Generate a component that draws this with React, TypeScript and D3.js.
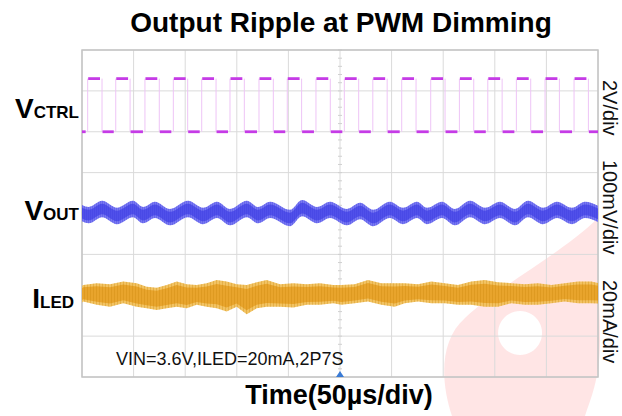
import React from 'react';
import * as d3 from 'd3';

const W = 622;
const H = 416;
const TITLE = 'Output Ripple at PWM Dimming';
const X_LABEL = 'Time(50µs/div)';
const NOTE = 'VIN=3.6V,ILED=20mA,2P7S';
const SCALE_LABELS = ['2V/div', '100mV/div', '20mA/div'];

const TIME_SPAN_US = 500;
const TIME_DIVS = 10;
const V_DIVS = 8;

// VCTRL (2V/div, offset +2 div): PWM edges in µs
const VCTRL_RISE = [5.5, 32.7, 61.0, 88.5, 116.0, 143.4, 171.5, 198.9, 226.7, 254.2, 281.8, 309.8, 337.9, 365.7, 393.2, 420.9, 448.7, 476.8];
const VCTRL_FALL = [19.4, 46.6, 74.9, 102.4, 129.9, 157.3, 185.4, 212.8, 240.6, 268.1, 295.7, 323.7, 351.8, 379.6, 407.1, 434.8, 462.6, 490.7];
const VCTRL_LEVELS = [0, 2.6]; // V low/high

// VOUT (100mV/div, offset 0 div): centre of ripple band in mV
const VOUT_T = [0, 6.5, 19.4, 33.9, 49.4, 59.1, 70.7, 85.3, 102.7, 117.3, 130.8, 143.4, 159.9, 170.5, 182.2, 201.6, 213.2, 227.7, 240.3, 256.8, 269.4, 282.0, 298.4, 311.0, 324.6, 334.3, 348.8, 361.4, 376.0, 390.5, 405.0, 419.6, 432.2, 446.7, 460.3, 474.8, 487.4, 500];
const VOUT_MV = [1, -4, 11, -6, 11, -4, 9, -9, 11, -6, 9, -9, 11, -4, 9, -11, 13, -4, 9, -9, 6, -11, 9, -6, 9, -6, 9, -9, 11, -6, 9, -9, 11, -6, 9, -6, 9, -1];
const VOUT_BAND_MV = 20;
const VOUT_CORE_MV = 13;

// ILED (20mA/div, offset -2 div): noise envelope in mA
const ILED_T = [0, 1.3, 14.2, 27.1, 40.0, 53.0, 62.7, 72.4, 82.1, 91.8, 101.5, 111.1, 120.8, 130.5, 140.2, 149.9, 159.6, 169.3, 179.0, 191.9, 204.8, 217.7, 230.6, 243.5, 251.3, 264.2, 277.1, 290.0, 303.0, 312.7, 325.6, 338.5, 351.5, 364.3, 377.2, 390.2, 403.1, 416.0, 429.0, 441.9, 454.8, 467.7, 480.6, 493.5, 500];
const ILED_UP = [4.6, 5.0, 5.9, 5.4, 6.7, 5.9, 4.2, 3.7, 5.0, 6.7, 5.4, 5.0, 5.9, 7.5, 6.7, 5.4, 5.0, 6.4, 7.5, 5.4, 5.9, 5.4, 5.9, 5.0, 5.0, 5.4, 7.5, 5.9, 5.9, 5.9, 5.4, 6.7, 5.9, 5.0, 6.7, 7.5, 6.4, 5.9, 5.4, 5.9, 5.0, 5.9, 6.7, 6.7, 6.0];
const ILED_DN = [-3.5, -3.1, -4.7, -5.6, -3.9, -5.6, -6.4, -7.2, -6.4, -5.6, -6.4, -4.7, -5.6, -6.4, -8.0, -5.6, -9.3, -6.4, -5.6, -5.6, -6.0, -4.7, -4.7, -3.9, -4.7, -3.9, -3.1, -4.7, -5.6, -3.9, -3.1, -3.9, -3.9, -4.7, -4.7, -5.6, -5.6, -3.9, -4.7, -4.7, -3.9, -3.1, -3.9, -3.9, -4.0];

const CHANNELS = [
  { big: 'V', small: 'CTRL', offset: 2, perDiv: 2, labelX: 79, labelY: 118, scaleY: 80 },
  { big: 'V', small: 'OUT', offset: 0, perDiv: 100, labelX: 79, labelY: 220, scaleY: 160 },
  { big: 'I', small: 'LED', offset: -2, perDiv: 20, labelX: 74, labelY: 308, scaleY: 280 },
];

const FONT = "'Liberation Sans', Arial, sans-serif";

export default function App() {
  const left = 82, right = 598, top = 50, bottom = 377;
  const x = d3.scaleLinear().domain([0, TIME_SPAN_US]).range([left, right]);
  const yDiv = d3.scaleLinear().domain([-V_DIVS / 2, V_DIVS / 2]).range([bottom, top]);
  const chY = (i: number) => (v: number) => yDiv(CHANNELS[i].offset + v / CHANNELS[i].perDiv);

  const vGrid = d3.range(TIME_DIVS + 1).map((i) => x((TIME_SPAN_US / TIME_DIVS) * i));
  const hGrid = d3.range(V_DIVS + 1).map((j) => yDiv(-V_DIVS / 2 + j));
  const cx = x(TIME_SPAN_US / 2);
  const cy = yDiv(0);
  const minorX = d3.range(TIME_DIVS * 5 + 1).map((i) => x((TIME_SPAN_US / TIME_DIVS / 5) * i));
  const minorY = d3.range(V_DIVS * 5 + 1).map((j) => yDiv(-V_DIVS / 2 + j / 5));

  // VCTRL
  const yc = chY(0);
  const edges = [...VCTRL_RISE.map((t) => ({ t, up: true })), ...VCTRL_FALL.map((t) => ({ t, up: false }))].sort((a, b) => a.t - b.t);
  const bounds = [0, ...edges.map((e) => e.t), TIME_SPAN_US];
  const segs = bounds.slice(0, -1).map((t0, i) => ({ t0, t1: bounds[i + 1], high: i % 2 === 1 }));

  // VOUT
  const yo = chY(1);
  const voutData = VOUT_T.map((t, i) => ({ t, v: VOUT_MV[i] }));
  const bandArea = (half: number) =>
    d3.area<{ t: number; v: number }>()
      .x((d) => x(d.t))
      .y0((d) => yo(d.v - half))
      .y1((d) => yo(d.v + half))
      .curve(d3.curveMonotoneX)(voutData) || '';

  // ILED
  const yi = chY(2);
  const iledData = ILED_T.map((t, i) => ({ t, up: ILED_UP[i], dn: ILED_DN[i] }));
  const iledOuter = d3.area<{ t: number; up: number; dn: number }>()
    .x((d) => x(d.t)).y0((d) => yi(d.dn)).y1((d) => yi(d.up)).curve(d3.curveLinear)(iledData) || '';
  const iledCore = d3.area<{ t: number; up: number; dn: number }>()
    .x((d) => x(d.t))
    .y0((d) => yi(d.dn + (d.up - d.dn) * 0.14))
    .y1((d) => yi(d.up - (d.up - d.dn) * 0.14))
    .curve(d3.curveLinear)(iledData) || '';

  return (
    <svg width={W} height={H} style={{ position: 'absolute', left: 0, top: 0, background: '#fff' }}>
      <defs>
        <pattern id="hatchB" width="2" height="4" patternUnits="userSpaceOnUse">
          <rect width="1" height="4" fill="#3a3ae0" opacity="0.3" />
        </pattern>
        <pattern id="hatchO" width="3" height="7" patternUnits="userSpaceOnUse">
          <rect width="1" height="7" fill="#c98408" opacity="0.3" />
        </pattern>
      </defs>
      <rect width={W} height={H} fill="#fff" />

      {/* watermark */}
      <path
        d="M598 218 C596 260 600 300 600 340 C600 380 590 400 585 416 L452 416 C440 380 440 340 465 318 C500 285 560 255 598 218 Z M520 311 A22 22 0 1 0 520.1 311 Z"
        fill="#ff2a2a" fillOpacity={0.12} fillRule="evenodd"
      />

      {/* grid */}
      {vGrid.map((gx, i) => (
        <line key={'v' + i} x1={gx} x2={gx} y1={top} y2={bottom} stroke="#dadada" strokeWidth={1} />
      ))}
      {hGrid.map((gy, i) => (
        <line key={'h' + i} x1={left} x2={right} y1={gy} y2={gy} stroke="#dadada" strokeWidth={1} />
      ))}
      {minorY.map((my, i) => (
        <line key={'my' + i} x1={cx - 2} x2={cx + 2} y1={my} y2={my} stroke="#d0d0d0" strokeWidth={1} />
      ))}
      {minorX.map((mx, i) => (
        <line key={'mx' + i} x1={mx} x2={mx} y1={cy - 2} y2={cy + 2} stroke="#d0d0d0" strokeWidth={1} />
      ))}
      <rect x={left} y={top} width={right - left} height={bottom - top} fill="none" stroke="#c4c4c4" strokeWidth={1.5} />

      {/* VCTRL */}
      {edges.map((e, i) => (
        <line key={'e' + i} x1={x(e.t)} x2={x(e.t)} y1={yc(VCTRL_LEVELS[1])} y2={yc(VCTRL_LEVELS[0])} stroke="#eec4f6" strokeWidth={1} />
      ))}
      {segs.map((s, i) => (
        <line key={'s' + i} x1={x(s.t0) + (s.t0 === 0 ? 0 : 0.5)} x2={x(s.t1) - (s.t1 === TIME_SPAN_US ? 0 : 2)}
          y1={yc(VCTRL_LEVELS[s.high ? 1 : 0])} y2={yc(VCTRL_LEVELS[s.high ? 1 : 0])}
          stroke="#c53be6" strokeWidth={2.8} />
      ))}

      {/* VOUT */}
      <path d={bandArea(VOUT_BAND_MV)} fill="#7a7af2" />
      <path d={bandArea(VOUT_CORE_MV)} fill="#5050ea" />
      <path d={bandArea(VOUT_BAND_MV)} fill="url(#hatchB)" />

      {/* ILED */}
      <path d={iledOuter} fill="#f1bc52" fillOpacity={0.9} />
      <path d={iledCore} fill="#e8a42c" />
      <path d={iledOuter} fill="url(#hatchO)" />

      {/* trigger marker */}
      <path d={`M${cx - 4} ${bottom} L${cx + 4} ${bottom} L${cx} ${bottom - 6} Z`} fill="#3a7bd5" />

      {/* texts */}
      <text x={341} y={32} textAnchor="middle" fontFamily={FONT} fontWeight="bold" fontSize={28} fill="#000">{TITLE}</text>
      <text x={339} y={404} textAnchor="middle" fontFamily={FONT} fontWeight="bold" fontSize={27} fill="#000">{X_LABEL}</text>
      <text x={116} y={365} fontFamily={FONT} fontSize={18} fill="#111">{NOTE}</text>

      {CHANNELS.map((c, i) => (
        <text key={'l' + i} x={c.labelX} y={c.labelY} textAnchor="end" fontFamily={FONT} fontWeight="bold" fill="#000">
          <tspan fontSize={28}>{c.big}</tspan>
          <tspan fontSize={17}>{c.small}</tspan>
        </text>
      ))}
      {SCALE_LABELS.map((s, i) => (
        <text key={'r' + i} transform={`translate(603,${CHANNELS[i].scaleY}) rotate(90)`} fontFamily={FONT} fontSize={20} fill="#111">{s}</text>
      ))}
    </svg>
  );
}
